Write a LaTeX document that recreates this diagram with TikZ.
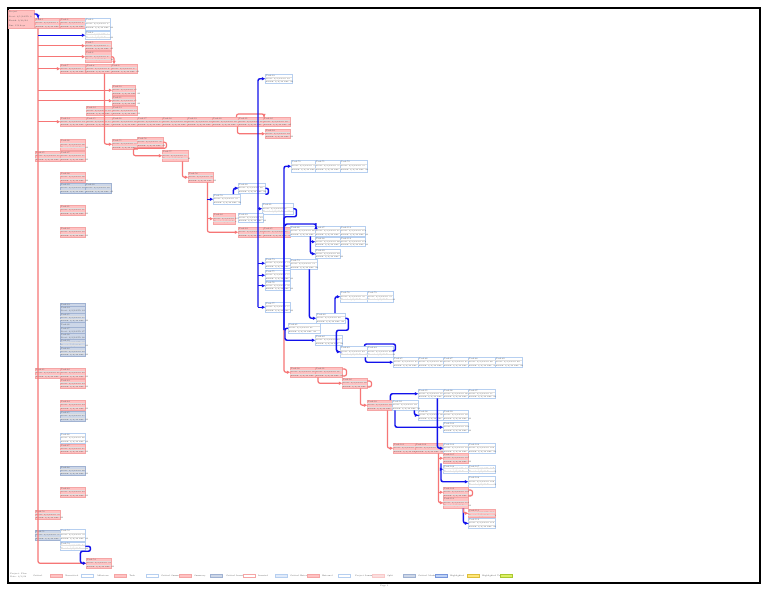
\documentclass[tikz,border=0pt]{standalone}
\usetikzlibrary{arrows.meta,calc}
\definecolor{pinkf}{RGB}{255,194,194}
\definecolor{pinkd}{RGB}{245,165,165}
\definecolor{wdraw}{RGB}{182,207,240}
\definecolor{bgf}{RGB}{205,215,232}
\definecolor{bgd}{RGB}{160,178,210}
\definecolor{redl}{RGB}{246,118,118}
\definecolor{bluel}{RGB}{18,18,235}
\definecolor{txt}{RGB}{80,80,80}
\tikzset{
 pbox/.style={draw=pinkd, fill=pinkf, line width=0.35pt},
 wbox/.style={draw=wdraw, fill=white, line width=0.35pt},
 gbox/.style={draw=bgd, fill=bgf, line width=0.35pt},
 rc/.style={draw=redl, line width=0.9pt, rounded corners=1.5pt},
 bc/.style={draw=bluel, line width=1.1pt, rounded corners=1.5pt},
 arr/.style={-{Triangle[length=2.4pt,width=2.4pt]}},
 sepl/.style={draw=black!12, line width=0.15pt},
 lgt/.style={font=\fontsize{1.5}{1.9}\selectfont, text=txt, inner sep=0pt, anchor=west, align=left},
 swt/.style={minimum width=9pt, minimum height=2.2pt, inner sep=0pt, anchor=west, line width=0.35pt}
}
\newcommand\std[2]{\mbox{#1}\\\mbox{Start: 3/4/24 ID: #2}\\\mbox{Finish: 3/6/24 Dur: 2d}}
\newcommand\tbox[7]{%
 \pgfmathsetlengthmacro\tbw{(#4-1.2)*0.75pt}%
 \pgfmathsetlengthmacro\tbh{#5*0.75pt}%
 \pgfmathsetlengthmacro\tbb{#5*0.25pt}%
 \node[#6, anchor=north west, minimum width={#4*0.75pt}, minimum height=\tbh, text width=\tbw, inner xsep=0.45pt, inner ysep=0pt, align=left, text=txt, font={\fontsize{1.5}{\tbb}\selectfont}] (#1) at (#2,#3) {#7};%
 \draw[sepl] ($(#1.north west)!0.3333!(#1.south west)$) -- ($(#1.north east)!0.3333!(#1.south east)$);%
 \draw[sepl] ($(#1.north west)!0.6667!(#1.south west)$) -- ($(#1.north east)!0.6667!(#1.south east)$);%
}
\newcommand\tboxn[8]{%
 \pgfmathsetlengthmacro\tbw{(#4-1.2)*0.75pt}%
 \pgfmathsetlengthmacro\tbh{#5*0.75pt}%
 \pgfmathsetlengthmacro\tbb{#5*0.75pt/#7}%
 \node[#6, anchor=north west, minimum width={#4*0.75pt}, minimum height=\tbh, text width=\tbw, inner xsep=0.45pt, inner ysep=0pt, align=left, text=txt, font={\fontsize{1.5}{\tbb}\selectfont}] (#1) at (#2,#3) {#8};%
}
\begin{document}
\begin{tikzpicture}[x=0.75pt,y=-0.75pt]
\fill[white] (0,0) rectangle (768,593);
\useasboundingbox (0,0) rectangle (768,593);
\draw[line width=0.8pt] (8,8) rectangle (760,583);
% ---------- top left
\tboxn{a1}{8}{10}{26}{18}{pbox}{4}{\mbox{Project}\\\mbox{Start: 3/1/24 ID: 0}\\\mbox{Finish: 9/30/24}\\\mbox{Dur: 150 days}}
\tbox{a2}{35}{18}{24}{10}{pbox}{\std{Task 1}{1}}
\tbox{a3}{60}{18}{25}{10}{pbox}{\std{Task 2}{2}}
\tbox{a4}{85}{18}{25}{12}{wbox}{\std{Task 3}{3}}
\tbox{a5}{85}{31}{25}{8}{wbox}{\std{Task 4}{4}}
\tbox{a6}{85}{41}{26}{9}{pbox}{\std{Task 5}{5}}
\tbox{a7}{85}{51}{26}{11}{pbox}{\std{Task 6}{6}}
\tbox{a8}{60}{64}{25}{9}{pbox}{\std{Task 7}{7}}
\tbox{a9}{86}{64}{25}{9}{pbox}{\std{Task 8}{8}}
\tbox{a10}{111}{64}{26}{9}{pbox}{\std{Task 9}{9}}
\tbox{a11}{112}{85}{23}{10}{pbox}{\std{Task 10}{10}}
\tbox{a12}{112}{96}{23}{9}{pbox}{\std{Task 11}{11}}
\tbox{a13}{86}{106}{26}{9}{pbox}{\std{Task 12}{12}}
\tbox{a14}{112}{106}{25}{9}{pbox}{\std{Task 13}{13}}
\tbox{r1}{60}{117}{26}{9}{pbox}{\std{Task 14}{14}}
\tbox{r2}{86}{117}{26}{9}{pbox}{\std{Task 15}{15}}
\tbox{r3}{112}{117}{25}{9}{pbox}{\std{Task 16}{16}}
\tbox{r4}{137}{117}{25}{9}{pbox}{\std{Task 17}{17}}
\tbox{r5}{162}{117}{25}{9}{pbox}{\std{Task 18}{18}}
\tbox{r6}{187}{117}{25}{9}{pbox}{\std{Task 19}{19}}
\tbox{r7}{212}{117}{26}{9}{pbox}{\std{Task 20}{20}}
\tbox{r8}{238}{117}{25}{9}{pbox}{\std{Task 21}{21}}
\tbox{r9}{263}{117}{27}{9}{pbox}{\std{Task 22}{22}}
\tbox{a25}{265}{74}{27}{9}{wbox}{\std{Task 23}{23}}
\tbox{a24}{265}{129}{25}{9}{pbox}{\std{Task 24}{24}}
% ---------- left columns
\tbox{l1}{35}{151}{25}{10}{pbox}{\std{Task 25}{25}}
\tbox{c1}{60}{139}{25}{11}{pbox}{\std{Task 26}{26}}
\tbox{c2}{60}{151}{25}{10}{pbox}{\std{Task 27}{27}}
\tbox{c3}{60}{172}{25}{10}{pbox}{\std{Task 28}{28}}
\tbox{c4}{60}{183}{25}{10}{gbox}{\std{Task 29}{29}}
\tbox{c5}{85}{183}{26}{10}{gbox}{\std{Task 30}{30}}
\tbox{c6}{60}{205}{25}{10}{pbox}{\std{Task 31}{31}}
\tbox{c7}{60}{227}{25}{10}{pbox}{\std{Task 32}{32}}
\tboxn{s1}{60}{303}{25}{3}{gbox}{1}{\mbox{Task 33}}
\tboxn{s2}{60}{306}{25}{7}{gbox}{2}{\mbox{Task 34}\\\mbox{Start: 3/4/24 ID: 34}}
\tbox{s3}{60}{313}{25}{9}{gbox}{\std{Task 35}{35}}
\tboxn{s4}{60}{322}{25}{5}{gbox}{1}{\mbox{Task 36}}
\tboxn{s5}{60}{327}{25}{6}{gbox}{2}{\mbox{Task 37}\\\mbox{Start: 3/4/24 ID: 37}}
\tboxn{s6}{60}{333}{25}{6}{gbox}{2}{\mbox{Task 38}\\\mbox{Start: 3/4/24 ID: 38}}
\tbox{s7}{60}{339}{25}{8}{gbox}{\std{Task 39}{39}}
\tbox{s8}{60}{347}{25}{9}{gbox}{\std{Task 40}{40}}
\tbox{l2}{35}{368}{25}{10}{pbox}{\std{Task 41}{41}}
\tbox{c8}{60}{368}{25}{10}{pbox}{\std{Task 42}{42}}
\tbox{c9}{60}{379}{25}{9}{pbox}{\std{Task 43}{43}}
\tbox{c10}{60}{400}{25}{10}{pbox}{\std{Task 44}{44}}
\tbox{c11}{60}{411}{25}{10}{gbox}{\std{Task 45}{45}}
\tbox{c12}{60}{433}{25}{10}{wbox}{\std{Task 46}{46}}
\tbox{c13}{60}{444}{25}{9}{pbox}{\std{Task 47}{47}}
\tbox{c14}{60}{466}{25}{9}{gbox}{\std{Task 48}{48}}
\tbox{c15}{60}{487}{25}{10}{pbox}{\std{Task 49}{49}}
\tbox{l3}{35}{510}{25}{9}{pbox}{\std{Task 50}{50}}
\tbox{l4}{35}{530}{25}{10}{gbox}{\std{Task 51}{51}}
\tbox{c16}{60}{529}{25}{12}{wbox}{\std{Task 52}{52}}
\tbox{c17}{60}{542}{25}{8}{wbox}{\std{Task 53}{53}}
\tbox{c18}{86}{558}{25}{10}{pbox}{\std{Task 54}{54}}
% ---------- middle chain
\tbox{m1}{112}{139}{25}{10}{pbox}{\std{Task 55}{55}}
\tbox{m2}{137}{137}{26}{10}{pbox}{\std{Task 56}{56}}
\tbox{m3}{162}{150}{26}{11}{pbox}{\std{Task 57}{57}}
\tbox{m4}{188}{172}{25}{10}{pbox}{\std{Task 58}{58}}
\tbox{m5}{213}{194}{27}{10}{wbox}{\std{Task 59}{59}}
\tbox{m6}{238}{183}{27}{10}{wbox}{\std{Task 60}{60}}
\tbox{m7}{262}{203}{31}{11}{wbox}{\std{Task 61}{61}}
\tbox{m8}{213}{213}{22}{11}{pbox}{\std{Task 62}{62}}
\tbox{m9}{238}{213}{25}{9}{wbox}{\std{Task 63}{63}}
\tbox{m10}{238}{227}{25}{10}{pbox}{\std{Task 64}{64}}
\tbox{m11}{263}{227}{27}{10}{pbox}{\std{Task 65}{65}}
\tbox{m12}{290}{226}{25}{10}{wbox}{\std{Task 66}{66}}
\tbox{m13}{315}{226}{25}{10}{wbox}{\std{Task 67}{67}}
\tbox{m16}{340}{226}{25}{10}{wbox}{\std{Task 113}{113}}
\tbox{m14}{315}{237}{25}{9}{wbox}{\std{Task 68}{68}}
\tbox{m17}{340}{237}{25}{9}{wbox}{\std{Task 114}{114}}
\tbox{m15}{315}{249}{25}{9}{wbox}{\std{Task 69}{69}}
\tbox{u1}{291}{160}{24}{12}{wbox}{\std{Task 70}{70}}
\tbox{u2}{315}{160}{25}{12}{wbox}{\std{Task 71}{71}}
\tbox{u3}{340}{160}{27}{12}{wbox}{\std{Task 72}{72}}
\tbox{n1}{265}{258}{25}{10}{wbox}{\std{Task 73}{73}}
\tbox{n2}{290}{259}{27}{10}{wbox}{\std{Task 74}{74}}
\tbox{n3}{265}{270}{25}{10}{wbox}{\std{Task 75}{75}}
\tbox{n4}{265}{281}{25}{9}{wbox}{\std{Task 76}{76}}
\tbox{n5}{265}{302}{25}{10}{wbox}{\std{Task 77}{77}}
\tbox{n6}{340}{291}{27}{11}{wbox}{\std{Task 78}{78}}
\tbox{n7}{367}{291}{26}{11}{wbox}{\std{Task 79}{79}}
\tbox{n8}{316}{313}{29}{10}{wbox}{\std{Task 80}{80}}
\tbox{n9}{288}{323}{32}{10}{wbox}{\std{Task 81}{81}}
\tbox{n10}{315}{335}{27}{10}{wbox}{\std{Task 82}{82}}
\tbox{n11}{340}{346}{27}{11}{wbox}{\std{Task 83}{83}}
\tbox{n12}{367}{346}{26}{11}{wbox}{\std{Task 84}{84}}
\tbox{q1}{393}{357}{25}{10}{wbox}{\std{Task 85}{85}}
\tbox{q2}{418}{357}{25}{10}{wbox}{\std{Task 86}{86}}
\tbox{q3}{443}{357}{25}{10}{wbox}{\std{Task 87}{87}}
\tbox{q4}{468}{357}{27}{10}{wbox}{\std{Task 88}{88}}
\tbox{q5}{495}{357}{27}{10}{wbox}{\std{Task 89}{89}}
\tbox{p1}{290}{367}{25}{10}{pbox}{\std{Task 90}{90}}
\tbox{p2}{315}{367}{27}{10}{pbox}{\std{Task 91}{91}}
\tbox{p3}{342}{378}{25}{10}{pbox}{\std{Task 92}{92}}
\tbox{p4}{367}{400}{25}{10}{pbox}{\std{Task 93}{93}}
\tbox{p5}{392}{400}{26}{10}{wbox}{\std{Task 94}{94}}
\tbox{t1}{418}{389}{25}{9}{wbox}{\std{Task 95}{95}}
\tbox{t2}{443}{389}{25}{9}{wbox}{\std{Task 96}{96}}
\tbox{t3}{468}{389}{27}{9}{wbox}{\std{Task 97}{97}}
\tbox{t4}{418}{410}{25}{10}{wbox}{\std{Task 98}{98}}
\tbox{t5}{443}{410}{25}{10}{wbox}{\std{Task 99}{99}}
\tbox{t6}{443}{422}{25}{10}{wbox}{\std{Task 100}{100}}
\tbox{v1}{393}{443}{22}{10}{pbox}{\std{Task 101}{101}}
\tbox{v2}{415}{443}{28}{10}{pbox}{\std{Task 102}{102}}
\tbox{v3}{443}{443}{25}{10}{wbox}{\std{Task 103}{103}}
\tbox{v4}{468}{443}{27}{10}{wbox}{\std{Task 104}{104}}
\tbox{v5}{443}{453}{25}{10}{pbox}{\std{Task 105}{105}}
\tbox{w1}{443}{465}{25}{8}{wbox}{\std{Task 106}{106}}
\tbox{w2}{468}{465}{27}{8}{wbox}{\std{Task 107}{107}}
\tbox{w3}{468}{476}{27}{11}{wbox}{\std{Task 108}{108}}
\tbox{w4}{443}{487}{25}{10}{pbox}{\std{Task 109}{109}}
\tbox{w5}{443}{497}{25}{11}{pbox}{\std{Task 110}{110}}
\tbox{w6}{468}{509}{27}{8}{pbox}{\std{Task 111}{111}}
\tbox{w7}{468}{518}{27}{10}{wbox}{\std{Task 112}{112}}
% ---------- connectors
\coordinate (sp) at ([shift={(3,0)}]a2.south west);
\draw[rc,arr] (sp) |- (c18);
\foreach \nm in {a6,a7,a8,a11,a12,r1} \draw[rc,arr] (sp |- \nm) -- (\nm);
\draw[bc,arr] (sp |- a5) -- (a5);
\draw[bc,arr] ([shift={(0,4)}]a1.north east) -| ([shift={(3,0)}]a2.north west);
\draw[rc,arr] (a7.east) -| ([shift={(3,0)}]a10.north west);
\draw[rc,arr] ([shift={(-7,0)}]a9.south east) |- (m1);
\draw[rc,arr] (m2.east) -- ++(3,0) -- ++(0,6) -- ++(-33,0) |- (m3);
\draw[rc,arr] ([shift={(-6,0)}]m3.south east) |- (m4);
\coordinate (j1) at ([shift={(-6,0)}]m4.south east);
\draw[rc,arr] (j1) |- (m10);
\draw[rc,arr] (j1 |- m8) -- (m8);
\draw[bc,arr] (j1 |- m5) -- (m5);
\draw[rc,arr] ([shift={(-2,0)}]r7.north east) -- ++(0,-3) -| ([shift={(1,0)}]r9.north west);
\draw[rc,arr] ([shift={(-1,0)}]r7.south east) |- (a24);
% blue spine x 258
\coordinate (bs) at (258,0);
\draw[bc,arr] (bs |- n5) |- (a25);
\draw[bc,arr] (bs |- n5) -- (n5);
\foreach \nm in {m7,n1,n3,n4} \draw[bc,arr] (bs |- \nm) -- (\nm);
% line x 284
\coordinate (k2) at (284,330);
\draw[bc,arr] (k2) |- (u1);
\draw[rc,arr] (k2) |- (p1);
\draw[bc,arr] ([shift={(-7,0)}]m5.north east) |- (m6);
\draw[bc] (m6.east) -- ++(3,0) -- ++(0,6) -- ++(-3,0);
\draw[bc] (m7.east) -- ++(3,0) -- ++(0,8) -| (k2);
\coordinate (j2) at ([shift={(-5,0)}]m12.south east);
\draw[bc,arr] (j2) |- (m15);
\draw[bc,arr] (j2 |- m14) -- (m14);
\draw[bc,arr] ([shift={(-5,0)}]m12.north west) -- ++(0,-2) -| ([shift={(1,0)}]m13.north west);
\draw[bc,arr] ([shift={(-8,0)}]n2.south east) |- (n8);
\draw[bc,arr] ([shift={(19,0)}]n8.north west) |- (n6);
\draw[bc,arr] (n9.west) -- ++(-3,0) |- (n10);
\draw[bc,arr] (n8.east) -- ++(3,0) -- ++(0,12) -- ++(-12,0) |- (n11);
\draw[bc,arr] ([shift={(-2,0)}]n11.south east) |- (q1);
\draw[bc] ([shift={(-3,0)}]n11.north east) -- ++(0,-2) -- ++(31,0) -- ++(0,7) -- ++(-3,0);
\draw[rc] ([shift={(0,2)}]p2.north east) -- ++(4,0) -- ++(0,7) -- ++(-4,0);
\draw[rc,arr] ([shift={(3,0)}]p2.south west) |- (p3);
\draw[rc] ([shift={(0,3)}]p3.north east) -- ++(4,0) -- ++(0,6) -- ++(-4,0);
\draw[rc,arr] ([shift={(-7,0)}]p3.south east) |- (p4);
\draw[rc,arr] ([shift={(-5,0)}]p4.south east) |- (v1);
\draw[bc,arr] ([shift={(-2,0)}]p4.north east) |- (t1);
\draw[bc,arr] ([shift={(-4,0)}]p5.south east) |- (t4);
\draw[bc,arr] ([shift={(3,0)}]p5.south west) |- (t6);
\draw[bc,arr] ([shift={(-6,0)}]t1.south east) |- (v3);
\coordinate (j3) at ([shift={(-5,0)}]v2.south east);
\draw[rc,arr] (j3) |- (w5);
\draw[rc,arr] (j3 |- w4) -- (w4);
\draw[rc,arr] (j3 |- v5) -- (v5);
\coordinate (j4) at ([shift={(-2,0)}]v5.south west);
\draw[bc,arr] (j4) |- (w3);
\draw[bc,arr] (j4 |- w1) -- (w1);
\draw[bc,arr] ([shift={(-5,0)}]w5.south east) |- (w7);
\draw[rc,arr] ([shift={(-5,0)}]w5.south east) |- (w6);
\draw[rc] ([shift={(0,3)}]w4.north east) -- ++(4,0) -- ++(0,6) -- ++(-4,0);
\draw[bc,arr] (c17.east) -- ++(5,0) -- ++(0,5) -- ++(-10,0) |- (c18);
% ---------- legend
\node[lgt] (lg0) at (10,575.5) {Project: Plan\\Date: 3/1/24};
\node[lgt] (lt1) at (33,576) {Critical};
\node[swt, pbox] (sw1) at (50,576) {};
\node[lgt] (lt2) at (65,576) {Noncritical};
\node[swt, wbox] (sw2) at (81,576) {};
\node[lgt] (lt3) at (97,576) {Milestone};
\node[swt, pbox] (sw3) at (114,576) {};
\node[lgt] (lt4) at (129,576) {Task};
\node[swt, wbox] (sw4) at (146,576) {};
\node[lgt] (lt5) at (161,576) {Critical Summary};
\node[swt, pbox] (sw5) at (179,576) {};
\node[lgt] (lt6) at (194,576) {Summary};
\node[swt, gbox] (sw6) at (210,576) {};
\node[lgt] (lt7) at (226,576) {Critical Inserted};
\node[swt, draw=pinkd, fill=white] (sw7) at (243,576) {};
\node[lgt] (lt8) at (258,576) {Inserted};
\node[swt, draw=wdraw, fill={rgb,255:red,225;green,235;blue,250}] (sw8) at (275,576) {};
\node[lgt] (lt9) at (290,576) {Critical External};
\node[swt, pbox] (sw9) at (307,576) {};
\node[lgt] (lt10) at (322,576) {External};
\node[swt, wbox] (sw10) at (338,576) {};
\node[lgt] (lt11) at (355,576) {Project Summary};
\node[swt, draw=pinkd!60, fill={rgb,255:red,250;green,222;blue,222}] (sw11) at (372,576) {};
\node[lgt] (lt12) at (387,576) {Split};
\node[swt, gbox] (sw12) at (403,576) {};
\node[lgt] (lt13) at (418,576) {Critical Marked};
\node[swt, draw={rgb,255:red,120;green,150;blue,220}, fill={rgb,255:red,190;green,210;blue,245}] (sw13) at (435,576) {};
\node[lgt] (lt14) at (450,576) {Highlighted};
\node[swt, draw={rgb,255:red,220;green,190;blue,60}, fill={rgb,255:red,255;green,230;blue,120}] (sw14) at (467,576) {};
\node[lgt] (lt15) at (482,576) {Highlighted Task};
\node[swt, draw={rgb,255:red,170;green,200;blue,50}, fill={rgb,255:red,220;green,240;blue,100}] (sw15) at (500,576) {};
\node[lgt] (pg) at (380,586) {Page 1};
\end{tikzpicture}
\end{document}
